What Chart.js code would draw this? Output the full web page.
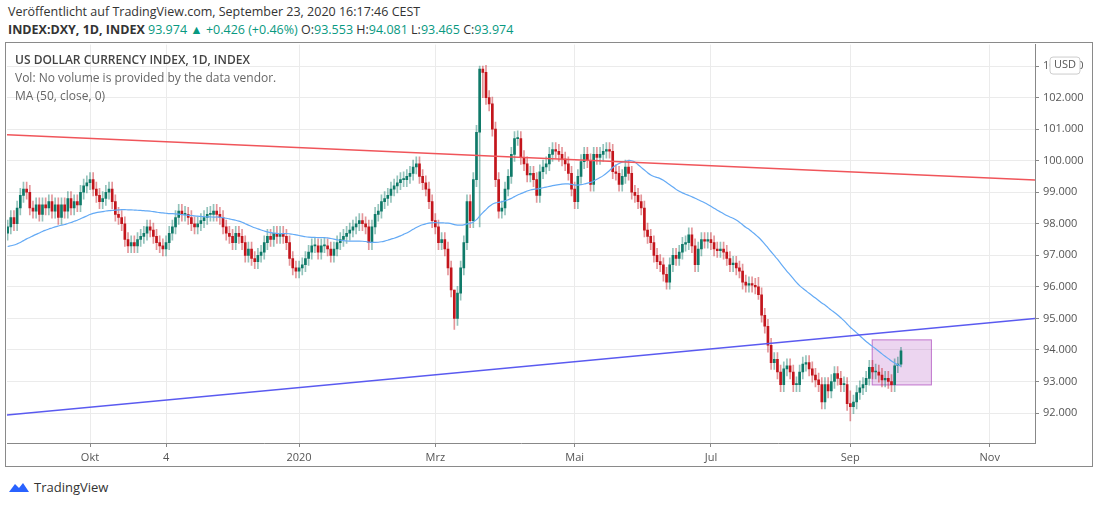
<!DOCTYPE html>
<html>
<head>
<meta charset="utf-8">
<script src="https://cdn.jsdelivr.net/npm/chart.js@4.4.0/dist/chart.umd.min.js"></script>
<style>
  body { margin: 0; background: #fff; font-family: "Open Sans", "Noto Sans", sans-serif; }
  #frame { position: absolute; left: 5px; top: 42px; width: 1088px; height: 425px; border: 1px solid #8a8a8a; box-sizing: border-box; }
  #wrap { position: absolute; left: 7px; top: 34px; width: 1086px; height: 435px; }
  .hdr { position: absolute; left: 8px; font-size: 12.5px; color: #333; white-space: nowrap; }
  .g { color: #089981; }
  .leg { position: absolute; left: 15px; font-size: 12px; color: #666; white-space: nowrap; }
  #logo { position: absolute; left: 8px; top: 478px; font-size: 13px; color: #333; display: flex; align-items: center; gap: 4px; }
</style>
</head>
<body>
<div class="hdr" style="top:3px">Veröffentlicht auf TradingView.com, September 23, 2020 16:17:46 CEST</div>
<div class="hdr" style="top:21px"><b>INDEX:DXY, 1D, INDEX</b> <span class="g">93.974 ▲ +0.426 (+0.46%)</span> O:<span class="g">93.553</span> H:<span class="g">94.081</span> L:<span class="g">93.465</span> C:<span class="g">93.974</span></div>
<div id="frame"></div>
<div id="wrap"><canvas id="c"></canvas></div>
<div class="leg" style="top:51px;color:#444;font-weight:600">US DOLLAR CURRENCY INDEX, 1D, INDEX</div>
<div class="leg" style="top:69px">Vol: No volume is provided by the data vendor.</div>
<div class="leg" style="top:87px">MA (50, close, 0)</div>
<div id="logo"><svg width="22" height="14" viewBox="0 0 22 14"><path d="M1 12 L7 4 L11 8 L15 3 L21 12 Z" fill="#2962ff"/></svg><span>TradingView</span></div>
<script>
// closes before the first visible bar (only used for the 50-day MA)
const priorCloses = [97.0, 96.9, 96.6, 96.7, 96.2, 96.2, 96.3, 95.9, 96.2, 96.1, 96.2, 96.5, 96.8, 96.8, 96.9, 96.8, 97.3, 97.3, 97.1,
  97.0, 96.8, 96.9, 96.7, 96.9, 97.1, 97.2, 97.3, 97.7, 97.8, 98.0, 98.1, 98.5, 98.3, 98.0, 97.8, 97.5, 97.5, 97.6, 97.5,
  97.6, 97.8, 97.9, 98.1, 98.2, 98.3, 98.2, 98.3, 98.1, 97.6];

const closes = [
  97.9, 98.2, 98.0, 98.5, 98.9, 99.1,
  99.0, 98.5, 98.4, 98.6, 98.3, 98.6, 98.5,
  98.7, 98.4, 98.6, 98.2, 98.6, 98.4, 98.8,
  98.5, 98.7, 98.6, 99.0, 99.2, 99.3, 99.4, 99.1,
  98.9, 98.7, 98.8, 99.0, 99.1, 98.7, 98.3, 98.2,
  98.0, 97.5, 97.3, 97.4, 97.3, 97.5, 97.6, 97.7, 97.9, 97.8,
  97.6, 97.4, 97.3, 97.2, 97.4,
  97.7, 97.9, 98.2, 98.4, 98.3, 98.3, 98.2, 98.0, 97.9, 98.0,
  98.1, 98.2, 98.3, 98.3, 98.4, 98.3,
  98.2, 97.9, 97.7, 97.6, 97.4, 97.7, 97.6, 97.4, 97.0,
  97.2, 96.9, 96.8, 97.0, 97.1, 97.4, 97.6,
  97.5, 97.7, 97.6, 97.7, 97.6, 97.4, 96.9,
  96.6, 96.5, 96.6, 96.7, 96.9, 97.1,
  97.3, 97.3, 97.1, 97.3, 97.3, 97.2, 97.0, 97.2,
  97.4, 97.5, 97.6, 97.7, 97.8, 97.9, 98.0, 98.1, 98.0, 97.9,
  97.4,
  97.9, 98.3, 98.4, 98.7, 98.8, 98.9, 99.1, 99.2, 99.3, 99.4, 99.4, 99.5, 99.6, 99.8, 99.9,
  99.5, 99.3, 99.1, 98.7, 98.1, 97.9, 97.4, 97.5, 97.2, 96.6, 95.9,
  95.0, 95.8, 96.6, 97.4, 98.7, 98.1, 99.4, 100.9, 102.9, 102.8,
  102.0, 101.8, 101.0, 99.4, 98.4, 98.5, 99.1, 99.5, 100.2, 100.7, 100.7, 100.1, 99.9, 99.55, 99.6, 99.4,
  98.9, 99.65, 99.8, 99.9, 100.2, 100.35, 100.3, 100.2, 100.05, 99.9, 99.6, 99.1, 98.7, 99.5, 99.97, 100.2,
  100.0, 99.25, 100.2, 100.1, 100.2, 100.3, 100.35, 100.3, 99.65, 99.6, 99.25, 99.5, 99.8, 99.6, 99.0, 98.9, 98.7, 98.5,
  97.8, 97.6, 97.4, 97.0, 96.8, 96.7, 96.4, 96.15, 96.7, 97.0, 96.9, 97.1, 97.35, 97.4, 97.65, 97.3, 96.7, 97.2, 97.5, 97.45,
  97.5, 97.4, 97.2, 97.15, 97.2, 97.1, 96.9, 96.7, 96.75, 96.6, 96.5, 96.15, 96.05, 96.1, 96.05, 96.0, 95.75, 95.1, 94.75, 94.15,
  93.6, 93.7, 93.3, 92.9, 93.4, 93.5, 93.3, 92.9, 92.9, 93.3, 93.55, 93.6, 93.4, 93.2, 93.05, 92.9, 92.35, 92.9, 92.7, 93.0,
  93.25, 93.1, 92.9, 92.9, 92.3, 92.2, 92.35, 92.65, 92.8, 92.9, 93.1, 93.45, 93.3, 93.3, 93.2, 93.05, 93.1, 93.0, 92.9, 93.5,
  93.553, 93.974
];
const firstOpen = 97.7;
// notable wick extremes: bar index -> [low, high]
const wickExtremes = { 141: [94.65, 95.9], 149: [97.9, 103.0], 150: [102.0, 103.0], 237: [95.6, 96.3], 266: [91.75, 92.7], 282: [93.465, 94.081] };
const wickPad = 0.22;

const tickIdx = [26, 50, 92, 135, 179, 222, 266, 310];
const tickText = ['Okt', '4', '2020', 'Mrz', 'Mai', 'Jul', 'Sep', 'Nov'];
const yTicks = [92, 93, 94, 95, 96, 97, 98, 99, 100, 101, 102, 103];

const redLine = [[-0.2, 100.82], [324.3, 99.39]];
const blueLine = [[-0.2, 91.94], [324.3, 95.0]];
const box = { x0: 272.9, x1: 291.6, y0: 92.89, y1: 94.32 };

const up = '#0f7a69', down = '#c3151c';
const bodies = [], wicks = [], bodyCol = [], wickCol = [];
closes.forEach((c, i) => {
  const o = i === 0 ? firstOpen : closes[i - 1];
  let lo = Math.min(o, c), hi = Math.max(o, c);
  if (hi - lo < 0.03) hi = lo + 0.03;
  const w = wickExtremes[i] || [lo - wickPad, hi + wickPad];
  bodies.push({ x: i, y: [lo, hi] });
  wicks.push({ x: i, y: [Math.min(w[0], lo), Math.max(w[1], hi)] });
  bodyCol.push(c >= o ? up : down);
  wickCol.push(c >= o ? 'rgba(15,122,105,0.45)' : 'rgba(195,21,28,0.45)');
});

const all = priorCloses.concat(closes);
const ma = closes.map((c, i) => {
  const s = all.slice(i + priorCloses.length - 49, i + priorCloses.length + 1);
  return { x: i, y: s.reduce((a, b) => a + b, 0) / s.length };
});

const overlay = {
  id: 'overlay',
  beforeDatasetsDraw(ch) {
    const { ctx, scales: { x, y } } = ch;
    ctx.save();
    ctx.fillStyle = 'rgba(186,104,200,0.28)';
    ctx.strokeStyle = 'rgba(156,39,176,0.6)';
    const l = x.getPixelForValue(box.x0), r = x.getPixelForValue(box.x1);
    const t = y.getPixelForValue(box.y1), b = y.getPixelForValue(box.y0);
    ctx.fillRect(l, t, r - l, b - t);
    ctx.strokeRect(l, t, r - l, b - t);
    ctx.restore();
  },
  afterDraw(ch) {
    const { ctx, scales: { y } } = ch;
    const py = y.getPixelForValue(103);
    ctx.save();
    ctx.fillStyle = '#fff';
    ctx.strokeStyle = '#ccc';
    ctx.beginPath();
    ctx.roundRect(y.left + 15, py - 9, 30, 17, 3);
    ctx.fill(); ctx.stroke();
    ctx.fillStyle = '#555';
    ctx.font = '11px "Open Sans"';
    ctx.textAlign = 'center';
    ctx.textBaseline = 'middle';
    ctx.fillText('USD', y.left + 30, py - 1);
    ctx.restore();
  }
};

new Chart(document.getElementById('c'), {
  type: 'bar',
  data: {
    datasets: [
      { type: 'line', data: redLine.map(p => ({ x: p[0], y: p[1] })), borderColor: '#f0555a', borderWidth: 1.5, pointRadius: 0, order: 0 },
      { type: 'line', data: blueLine.map(p => ({ x: p[0], y: p[1] })), borderColor: '#5a5af0', borderWidth: 1.5, pointRadius: 0, order: 0 },
      { type: 'line', data: ma, borderColor: '#64aaf5', borderWidth: 1.2, pointRadius: 0, tension: 0.3, order: 1 },
      { data: bodies, backgroundColor: bodyCol, barThickness: 2, grouped: false, order: 2 },
      { data: wicks, backgroundColor: wickCol, barThickness: 1, grouped: false, order: 3 }
    ]
  },
  options: {
    responsive: true, maintainAspectRatio: false, animation: false,
    layout: { padding: 0 },
    plugins: { legend: { display: false }, tooltip: { enabled: false } },
    scales: {
      x: {
        type: 'linear', min: -0.2, max: 324.3, offset: false,
        afterBuildTicks: s => { s.ticks = tickIdx.map(v => ({ value: v })); },
        afterFit: s => { s.height = 26; },
        ticks: { callback: v => tickText[tickIdx.indexOf(v)] ?? '', color: '#555', font: { size: 11, family: 'Open Sans' }, maxRotation: 0, padding: 4 },
        grid: { color: '#ebebeb', tickColor: '#888', tickLength: 4, offset: false },
        border: { color: '#888' }
      },
      y: {
        position: 'right', min: 91.05, max: 103.68,
        afterBuildTicks: s => { s.ticks = yTicks.map(v => ({ value: v })); },
        afterFit: s => { s.width = 58; },
        ticks: { callback: v => v.toFixed(3), color: '#555', font: { size: 11, family: 'Open Sans' }, padding: 4 },
        grid: { color: '#ebebeb', tickColor: '#888', tickLength: 4 },
        border: { color: '#888' }
      }
    }
  },
  plugins: [overlay]
});
</script>
</body>
</html>
